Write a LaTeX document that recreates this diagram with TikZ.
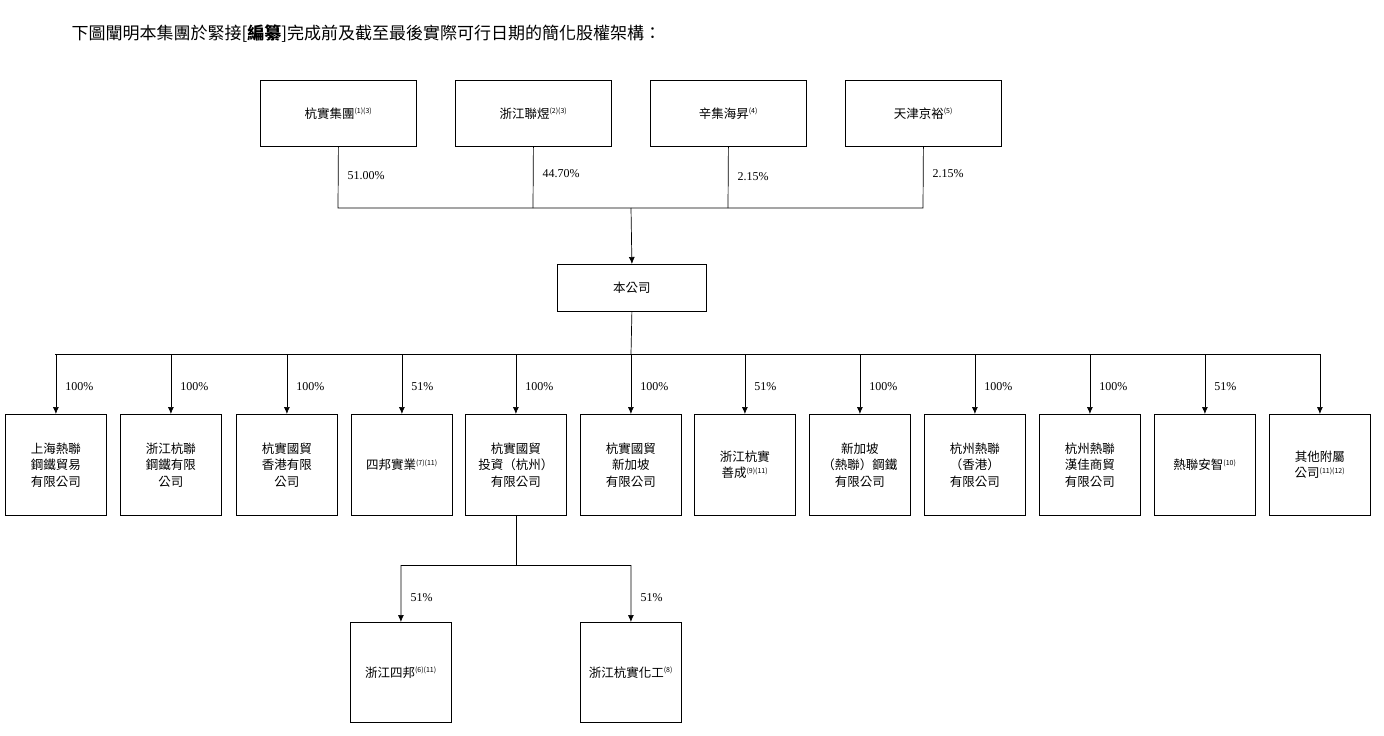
\documentclass[tikz,border=0pt]{standalone}
\usetikzlibrary{arrows.meta}
\usepackage{fontspec}
\setmainfont{Liberation Serif}
\newfontfamily\cjk{Noto Sans CJK TC}
\begin{document}
\begin{tikzpicture}[x=1pt,y=-1pt,
 box/.style={draw,thick,minimum width=101pt,minimum height=101pt,anchor=north west,align=center,font=\cjk\fontsize{12.5}{16.5}\selectfont,inner sep=1pt},
 top/.style={draw,thick,minimum width=156pt,minimum height=66pt,anchor=north west,font=\cjk\fontsize{12.5}{16}\selectfont},
 pct/.style={font=\fontsize{12}{14}\selectfont,anchor=west},
 arr/.style={-{Latex[length=7pt,width=6pt]}},
 ln/.style={line width=0.7pt}]
\newcommand{\sps}[1]{\textsuperscript{\scriptsize #1}}
\useasboundingbox (0,0) rectangle (1384,736);
\node[anchor=west,font=\cjk\fontsize{17}{20}\selectfont] (title) at (68,34) {下圖闡明本集團於緊接[\textbf{編纂}]完成前及截至最後實際可行日期的簡化股權架構：};
\node[top] (t1) at (260,80) {杭實集團\sps{(1)(3)}};
\node[top] (t2) at (455,80) {浙江聯煜\sps{(2)(3)}};
\node[top] (t3) at (650,80) {辛集海昇\sps{(4)}};
\node[top] (t4) at (845,80) {天津京裕\sps{(5)}};
\coordinate (j1) at (338,208);\coordinate (j2) at (533,208);\coordinate (j3) at (728,208);\coordinate (j4) at (923,208);
\coordinate (jm) at (631,208);
\draw[ln] (t1.south) -- (j1) -- (j4) -- (t4.south);
\draw[ln] (t2.south) -- (j2); \draw[ln] (t3.south) -- (j3);
\node[pct] at (344,176) {51.00\%};
\node[pct] at (539,174) {44.70\%};
\node[pct] at (734,177) {2.15\%};
\node[pct] at (929,174) {2.15\%};
\node[draw,thick,minimum width=149pt,minimum height=47pt,anchor=north west,font=\cjk\fontsize{12.5}{16}\selectfont] (co) at (557,264) {本公司};
\draw[ln,arr] (jm) -- (co.north);
\coordinate (h) at (631,354);
\draw[ln] (co.south) -- (h);
\coordinate (hl) at (55,354); \coordinate (hr) at (1320,354);
\draw[ln] (hl) -- (hr);
\foreach \i/\x/\t/\p in {
 1/5/{上海熱聯\\鋼鐵貿易\\有限公司}/100\%,
 2/120/{浙江杭聯\\鋼鐵有限\\公司}/100\%,
 3/236/{杭實國貿\\香港有限\\公司}/100\%,
 4/351/{四邦實業\sps{(7)(11)}}/51\%,
 5/465/{杭實國貿\\投資（杭州）\\有限公司}/100\%,
 6/580/{杭實國貿\\新加坡\\有限公司}/100\%,
 7/694/{浙江杭實\\善成\sps{(9)(11)}}/51\%,
 8/809/{新加坡\\（熱聯）鋼鐵\\有限公司}/100\%,
 9/924/{杭州熱聯\\（香港）\\有限公司}/100\%,
 10/1039/{杭州熱聯\\漢佳商貿\\有限公司}/100\%,
 11/1154/{熱聯安智\sps{(10)}}/51\%,
 12/1269/{其他附屬\\公司\sps{(11)(12)}}/{}}
{
 \node[box] (b\i) at (\x,414) {\t};
 \coordinate (c\i) at (b\i.north |- hl);
 \draw[ln,arr] (c\i) -- (b\i.north);
 \node[pct] at ([xshift=6pt,yshift=-33pt]c\i) {\p};
}
\coordinate (s) at (b5.south |- 0,565);
\coordinate (sl) at (401,565); \coordinate (sr) at (631,565);
\draw[ln] (b5.south) -- (s);
\draw[ln] (sl) -- (sr);
\node[box,minimum height=100pt] (s1) at (350,622) {浙江四邦\sps{(6)(11)}};
\node[box,minimum height=100pt] (s2) at (580,622) {浙江杭實化工\sps{(8)}};
\draw[ln,arr] (sl) -- (s1.north);
\draw[ln,arr] (sr) -- (s2.north);
\node[pct] at (407,598) {51\%};
\node[pct] at (637,598) {51\%};
\end{tikzpicture}
\end{document}
